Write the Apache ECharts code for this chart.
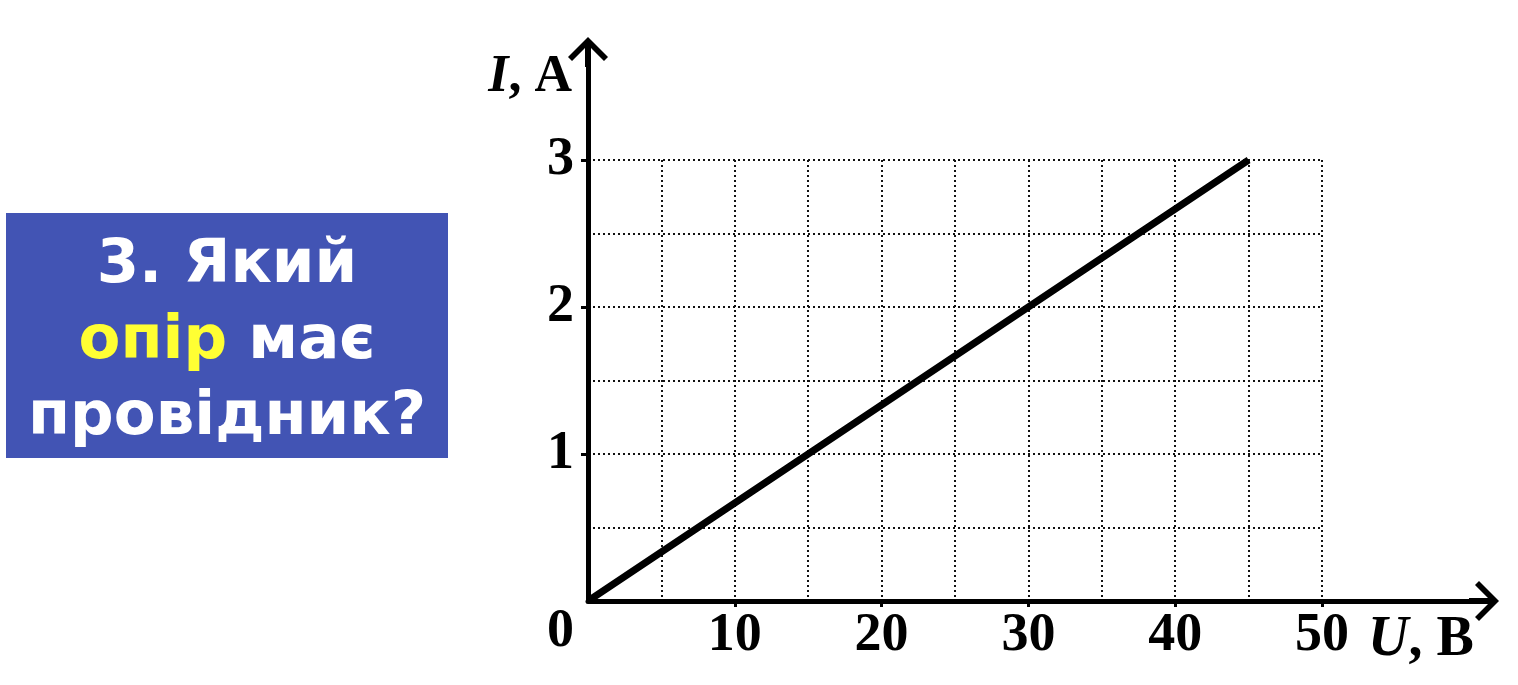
<!DOCTYPE html>
<html>
<head>
<meta charset="utf-8">
<script src="https://cdn.jsdelivr.net/npm/echarts@6/dist/echarts.min.js"></script>
<style>
html,body{margin:0;padding:0;background:#fff;}
#chart{width:1518px;height:685px;}
</style>
</head>
<body>
<div id="chart"></div>
<script>
// Data
const voltage = [0, 15, 30, 45];      // U, В
const current = [0, 1, 2, 3];         // I, А
const xTickLabels = [10, 20, 30, 40, 50];
const yTickLabels = [0, 1, 2, 3];
const yTickMarks = [1, 2, 3];
const questionLines = ['3. Який', '{y|опір} має', 'провідник?'];

const chart = echarts.init(document.getElementById('chart'));
const serif = '"Liberation Serif", "DejaVu Serif", serif';
const arrowPath = 'path://M20,0 L40,20 L36,24 L23,11 L23,30 L17,30 L17,11 L4,24 L0,20 Z';
const gridLine = { show: true, lineStyle: { color: '#111', width: 2, type: [2, 3] } };

const option = {
  backgroundColor: '#ffffff',
  animation: false,
  graphic: [
    {
      type: 'rect',
      shape: { x: 6, y: 213, width: 442, height: 245 },
      style: { fill: '#4254b4' },
      z: 10
    },
    {
      type: 'text',
      x: 227, y: 342,
      z: 11,
      style: {
        text: questionLines.join('\n'),
        fill: '#ffffff',
        font: 'bold 61px "DejaVu Sans", sans-serif',
        align: 'center',
        verticalAlign: 'middle',
        lineHeight: 76,
        rich: {
          y: { fill: '#ffff33', font: 'bold 61px "DejaVu Sans", sans-serif', lineHeight: 76 }
        }
      }
    }
  ],
  grid: [
    { left: 588, right: 196, top: 160, bottom: 84 },
    { left: 588, right: 34, top: 52, bottom: 84 }
  ],
  xAxis: [
    {
      gridIndex: 0, type: 'value', min: 0, max: 50, interval: 5,
      axisLine: { show: false },
      axisTick: { show: false },
      axisLabel: {
        customValues: xTickLabels, margin: 8,
        color: '#000', fontFamily: serif, fontWeight: 'bold', fontSize: 54
      },
      splitLine: gridLine,
      name: '{i|U}, В',
      nameLocation: 'end',
      nameGap: 46,
      nameTextStyle: {
        color: '#000', fontFamily: serif, fontWeight: 'bold', fontSize: 56,
        align: 'left', verticalAlign: 'top', padding: [12, 0, 0, 0],
        rich: { i: { fontFamily: serif, fontStyle: 'italic', fontWeight: 'bold', fontSize: 56, color: '#000' } }
      }
    },
    {
      gridIndex: 1, type: 'value', min: 0, max: 61.04,
      axisLine: { show: true, lineStyle: { color: '#000', width: 5 }, symbol: ['none', arrowPath], symbolSize: [40, 30] },
      axisTick: { show: true, customValues: xTickLabels, length: 6, lineStyle: { color: '#000', width: 3 } },
      axisLabel: { show: false }, splitLine: { show: false }
    }
  ],
  yAxis: [
    {
      gridIndex: 0, type: 'value', min: 0, max: 3, interval: 0.5,
      axisLine: { show: false },
      axisTick: { show: false },
      axisLabel: {
        customValues: yTickLabels, margin: 14,
        color: '#000', fontFamily: serif, fontWeight: 'bold', fontSize: 54,
        formatter: function (v) { return v === 0 ? '{z|0}' : String(v); },
        rich: { z: { padding: [62, 0, 0, 0], fontFamily: serif, fontWeight: 'bold', fontSize: 54, color: '#000' } }
      },
      splitLine: gridLine,
      name: '{i|I}, А',
      nameLocation: 'end',
      nameGap: 82,
      nameTextStyle: {
        color: '#000', fontFamily: serif, fontWeight: 'bold', fontSize: 52,
        align: 'right', verticalAlign: 'middle', padding: [0, 16, 0, 0],
        rich: { i: { fontFamily: serif, fontStyle: 'italic', fontWeight: 'bold', fontSize: 52, color: '#000' } }
      }
    },
    {
      gridIndex: 1, type: 'value', min: 0, max: 3.735,
      axisLine: { show: true, lineStyle: { color: '#000', width: 5 }, symbol: ['none', arrowPath], symbolSize: [40, 30] },
      axisTick: { show: true, customValues: yTickMarks, length: 7, lineStyle: { color: '#000', width: 3 } },
      axisLabel: { show: false }, splitLine: { show: false }
    }
  ],
  series: [
    {
      type: 'line',
      xAxisIndex: 0, yAxisIndex: 0,
      data: voltage.map((u, i) => [u, current[i]]),
      symbol: 'none',
      lineStyle: { color: '#000', width: 7 },
      z: 5
    }
  ]
};
chart.setOption(option);
</script>
</body>
</html>
